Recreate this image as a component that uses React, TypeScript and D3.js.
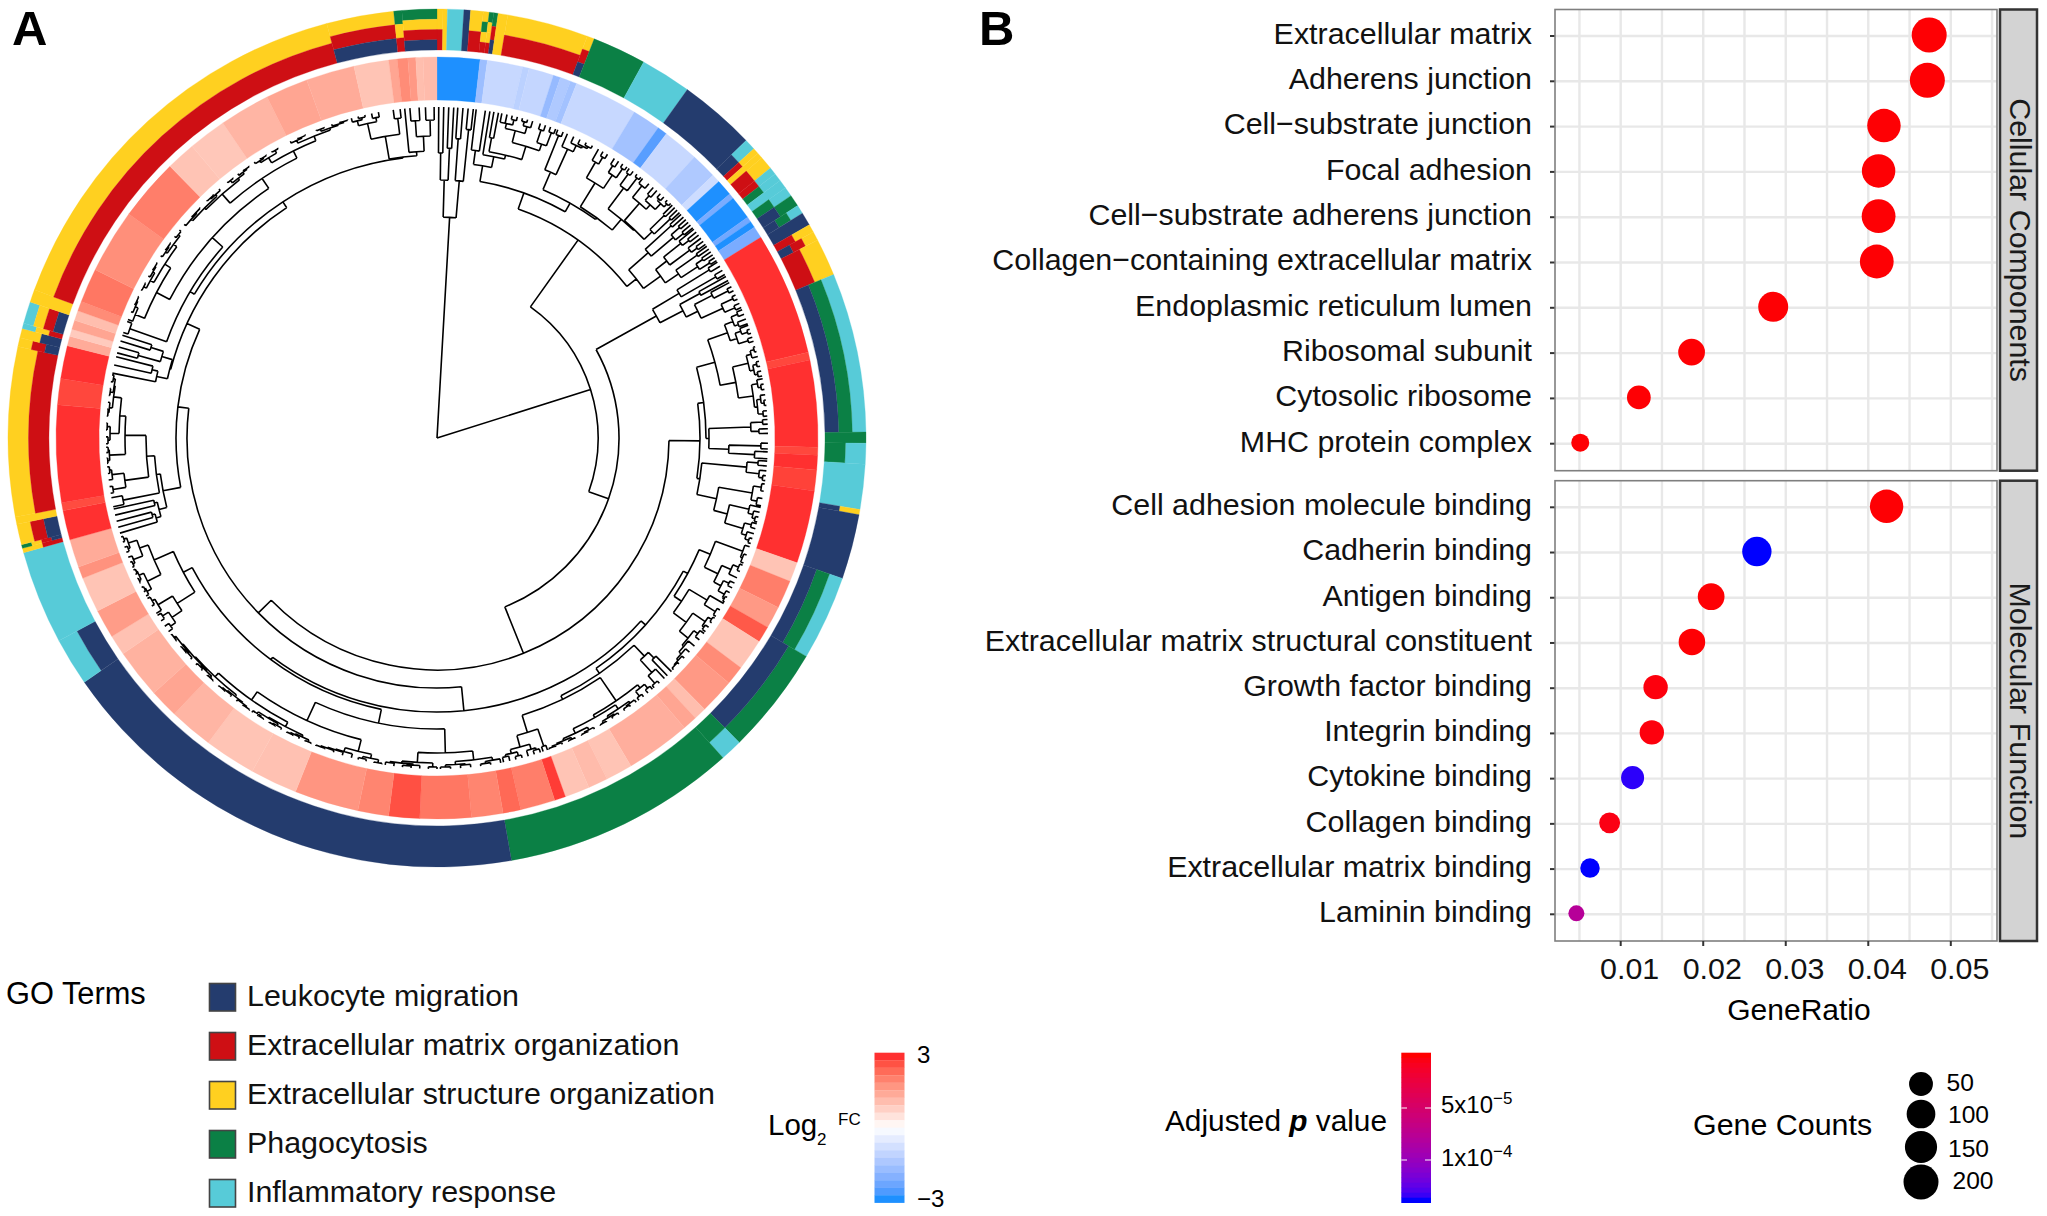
import * as d3 from 'd3'

const FONT = 'Liberation Sans'
const TIP = 331

// ---- panel A data ----
const goTerms = ['Leukocyte migration', 'Extracellular matrix organization', 'Extracellular structure organization', 'Phagocytosis', 'Inflammatory response']
const goKeys = ['L', 'E', 'Y', 'P', 'I']
const goColours = ['#243C6E', '#CE0F14', '#FFD020', '#0B8045', '#57CBD8']

// from angle, to angle, terms of that gene from the outside in
const termStacks: [number, number, string][] = [
    [0, 0.8, 'YE'], [0.8, 1.4, 'Y'], [1.4, 3.6, 'I'], [3.6, 4.5, 'L'], [4.5, 6.2, 'YE'], [6.2, 7, 'YPYE'], [7, 7.6, 'PYYE'], [7.6, 8.2, 'PEL'],
    [8.2, 9.5, 'Y'], [9.5, 20.5, 'YE'], [20.5, 21.5, 'YEL'], [21.5, 28.8, 'P'], [28.8, 35.7, 'I'], [35.7, 46.1, 'L'], [46.1, 47.6, 'IL'],
    [47.6, 48.4, 'YE'], [48.4, 49.2, 'Y'], [49.2, 51, 'YE'], [51, 52, 'IE'], [52, 53.1, 'IP'], [53.1, 54.3, 'I'], [54.3, 55.6, 'IP'],
    [55.6, 57.2, 'PL'], [57.2, 58.4, 'IPL'], [58.4, 60.2, 'L'], [60.2, 61.3, 'YE'], [61.3, 62.5, 'YEL'], [62.5, 67.6, 'YE'], [67.6, 89.2, 'IPL'],
    [89.2, 90.7, 'P'], [90.7, 93.5, 'IP'], [93.5, 99.6, 'I'], [99.6, 100.3, 'YL'], [100.3, 109.1, 'L'], [109.1, 120.6, 'IPL'], [120.6, 135.2, 'PL'],
    [135.2, 138.2, 'IP'], [138.2, 170, 'P'], [170, 235.3, 'L'], [235.3, 241.8, 'IL'], [241.8, 254.5, 'I'], [254.5, 255.1, 'YE'], [255.1, 255.6, 'PYEL'],
    [255.6, 258.4, 'YEL'], [258.4, 259.4, 'Y'], [259.4, 282.3, 'YE'], [282.3, 283.5, 'YEL'], [283.5, 284.8, 'YL'], [284.8, 285.5, 'IYE'],
    [285.5, 288.5, 'IYEL'], [288.5, 290.2, 'Y'], [290.2, 345.1, 'YE'], [345.1, 354.2, 'YEL'], [354.2, 355.3, 'PYE'], [355.3, 360, 'PYEL']
]

// from angle, to angle, log2 fold change
const foldChanges: [number, number, number][] = [
    [0, 6.5, -3], [6.5, 7.6, -1.7], [7.6, 13, -1], [13, 14, -1.2], [14, 17.8, -1.05], [17.8, 18.9, -1.8], [18.9, 20.5, -1.4], [20.5, 21.5, -1.6],
    [21.5, 31.2, -1], [31.2, 35.5, -1.6], [35.5, 37, -2.6], [37, 42.5, -1], [42.5, 46.4, -1.4], [46.4, 47.7, -0.9], [47.7, 50.2, -3], [50.2, 51, -2.2],
    [51, 54.6, -3], [54.6, 55.4, -2.3], [55.4, 56.4, -3], [56.4, 58.2, -2.2],
    [58.2, 77, 3], [77, 78.2, 2.8], [78.2, 91.4, 3], [91.4, 92.6, 2.8], [92.6, 94.8, 3], [94.8, 98, 2.85], [98, 109.1, 3],
    [109.1, 112.1, 1], [112.1, 116.4, 2.1], [116.4, 119.8, 1.7], [119.8, 122.3, 2.6], [122.3, 127.1, 1], [127.1, 130, 1.9], [130, 135.4, 1.7],
    [135.4, 137.3, 1.1], [137.3, 139.5, 1.5], [139.5, 149.4, 1.35], [149.4, 153.5, 1], [153.5, 156.5, 1.15], [156.5, 160.3, 1], [160.3, 162, 2.9],
    [162, 167.3, 2.1], [167.3, 170, 2.4], [170, 174.8, 2], [174.8, 182.6, 2.2], [182.6, 187.3, 2.7], [187.3, 192, 2], [192, 201.8, 1.75],
    [201.8, 209, 1.05], [209, 216.9, 1], [216.9, 223.6, 1.25], [223.6, 228, 1.5], [228, 235.5, 1.3], [235.5, 238.6, 1.05], [238.6, 243, 1.65],
    [243, 248.4, 1], [248.4, 250.2, 1.8], [250.2, 254.5, 1.4], [254.5, 259, 3], [259, 260.2, 2.75], [260.2, 275, 3], [275, 279, 2.8], [279, 284, 3],
    [284, 285.5, 1.4], [285.5, 286.6, 0.9], [286.6, 288, 1.5], [288, 289.5, 1.1], [289.5, 291, 1.9], [291, 296.2, 2.2], [296.2, 306, 1.85],
    [306, 315.5, 2.1], [315.5, 320, 1], [320, 325.8, 0.95], [325.8, 333.5, 1.25], [333.5, 340, 1.5], [340, 347.4, 1.4], [347.4, 352.7, 1],
    [352.7, 354, 1.5], [354, 355.6, 1.9], [355.6, 356.8, 1.7], [356.8, 357.9, 1.1], [357.9, 360, 1.15]
]

// ---- dendrogram: depth is the distance from the root, x is a gene ----
interface TreeNode { depth: number, at?: number, angle?: number, kids?: TreeNode[] }

const parseClade = (text: string): TreeNode => {
    let i = 0
    const read = (): TreeNode => {
        if (text[i] === 'x') {
            i++
            return { depth: TIP }
        }
        i++
        const kids = [read()]
        while (text[i] === ',') {
            i++
            kids.push(read())
        }
        i++
        let num = ''
        while (/[0-9.]/.test(text[i] || '')) num += text[i++]
        return { depth: +num, kids }
    }
    return read()
}

const clade = (from: number, to: number, text: string): TreeNode => {
    const tree = parseClade(text)
    const leaves: TreeNode[] = []
    const walk = (n: TreeNode) => { if (n.kids) n.kids.forEach(walk); else leaves.push(n) }
    walk(tree)
    const spread = d3.scaleLinear().domain([0, Math.max(1, leaves.length - 1)]).range([from, to])
    leaves.forEach((l, i) => { l.angle = spread(i) })
    return tree
}
const nd = (depth: number, ...kids: TreeNode[]): TreeNode => ({ depth, kids })

const treeA = nd(221,
    clade(0.3, 2.9, '((x,x)285,(x,x)290)258'),
    clade(3.6, 6.3, '((x,x)300,(x,x)310)258'))

const treeE = nd(260,
    nd(276,
        clade(6.8, 8.4, '(x,x)290'),
        nd(287,
            clade(9.2, 9.2, 'x'),
            nd(291,
                clade(9.9, 10.7, '(x,x)305'),
                nd(305,
                    clade(11.3, 16.8, '((x,x,(x,x)327)322,((x,x)328,x)324)317'),
                    clade(18.2, 21, '((x,x)325,(x,x)326)312'))))),
    nd(270,
        nd(289,
            clade(21.4, 22.4, '(x,x)326'),
            clade(23.2, 28, '(x,(x,(x,(x,x)328)326)324)317')),
        nd(272,
            nd(300,
                clade(29.2, 31, '(x,(x,x)326)318'),
                clade(32.4, 35, '((x,x)324,(x,x)327)316')),
            nd(286,
                clade(35.5, 38, '((x,x)326,(x,x)328)312'),
                nd(287,
                    nd(310,
                        clade(38.4, 39.8, '(x,x)325'),
                        clade(40.8, 44.9, '((x,x)322,((x,x)326,(x,x)328)324)316')),
                    clade(45.3, 47.1, '((x,x)318,(x,x)320)298'))))))

const treeF = nd(255,
    clade(47.5, 50.6, '((x,x)316,((x,x)321,(x,x)320)310)281'),
    nd(276,
        clade(50.9, 54.2, '((x,(x,x)320)312,(x,(x,x)322)315)290'),
        clade(54.6, 57.6, '((x,x)318,((x,x)320,(x,x)324)312)292')))

const treeD1 = nd(251,
    clade(57.9, 60.4, '((x,x)320,(x,x)322)282'),
    nd(277,
        clade(60.8, 61.6, '(x,x)300'),
        clade(62, 66.8, '((x,(x,x)326)310,((x,x)327,(x,x)325)314)290')))

const treeK = nd(263,
    nd(269,
        nd(288,
            nd(309,
                clade(67.2, 69.8, '((x,x)325,(x,x)322)318'),
                clade(70.1, 73, '((x,(x,x)328)322,(x,x)326)316')),
            nd(304,
                clade(74, 79.2, '(((x,x)329,x)325,((x,x)328,(x,x)327)324)320'),
                clade(79.7, 86.2, '((x,(x,x)328)325,((x,(x,x)329)326,(x,x)327)322)319'))),
        nd(272,
            clade(86.8, 89.2, '((x,x)326,(x,x)322)314'),
            nd(292,
                clade(90.9, 91.9, '(x,x)324'),
                clade(92.4, 93.6, '(x,x)318')))),
    nd(266,
        clade(94, 97.4, '((x,x)322,(x,(x,x)328)324)311'),
        nd(286,
            clade(98, 101.8, '((x,x)328,(x,x)326)320'),
            nd(300,
                clade(102.1, 104.7, '(x,(x,(x,x)328)325)320'),
                clade(105, 108.6, '((x,x)326,(x,(x,x)328)324)319')))))

const treeP = nd(280,
    nd(285,
        nd(297,
            clade(109.2, 112.2, '(x,(x,x)328)326'),
            nd(312,
                clade(112.6, 115, '((x,x)328,x)322'),
                clade(116, 119.7, '((x,x)326,(x,(x,x)329)327)320'))),
        nd(294,
            clade(120, 122.6, '(x,(x,x)328)315'),
            nd(310,
                clade(123, 125.8, '((x,x)329,(x,x)327)325'),
                clade(126.2, 134.4, '((x,x)326,(x,(x,(x,(x,x)329)328)326)323)321')))),
    nd(286,
        nd(301,
            clade(134.9, 135.9, '(x,x)309'),
            clade(136.6, 139, '(x,(x,x)328)318')),
        nd(290,
            nd(318,
                clade(139.4, 142.4, '((x,x)327,(x,x)328)322'),
                clade(143, 160.2, '(((x,(x,x)329)328,((x,x)329,(x,x)330)328)326,((x,(x,x)330)329,((x,x)330,(x,(x,x)330)329)328)326)321')),
            nd(308,
                clade(160.5, 161.3, '(x,x)326'),
                clade(161.8, 168.4, '(((x,x)327,x)325,((x,x)328,(x,x)326)324)320')))))

const treeQ = nd(277,
    nd(291,
        nd(315,
            clade(168.9, 179.4, '((x,(x,x)329)327,((x,x)328,(x,x)329)327)324'),
            clade(180, 189, '((x,x)329,((x,(x,x)329)328,(x,x)328)327)325')),
        nd(311,
            nd(323,
                clade(189.6, 193.8, '((x,x)330,(x,x)329)327'),
                clade(195, 201.5, '(x,(x,(x,(x,x)330)329)328)327')),
            nd(321,
                clade(202.4, 214, '(((x,x)330,(x,(x,x)330)329)328,((x,(x,x)330)329,((x,x)330,x)329)327)326'),
                clade(214.6, 233.5, '((((x,x)330,x)329,(x,(x,x)330)329)328,(((x,x)330,(x,x)329)328,((x,(x,x)330)329,(x,x)330)328)327)326')))),
    nd(287,
        nd(308,
            clade(234.2, 237.6, '((x,x)326,(x,x)327)320'),
            clade(238, 241, '(x,(x,x)328)325')),
        nd(308,
            clade(241.5, 246.5, '((x,(x,x)329)328,((x,x)330,(x,x)329)328)323'),
            clade(247, 252.6, '(((x,x)329,x)327,((x,x)328,(x,x)329)326)317'))))

const treeN1 = nd(279,
    clade(253.3, 257.6, '((x,(x,x)295)292,(x,x)290)287'),
    nd(283,
        clade(258, 259.6, '(x,x)320'),
        nd(291,
            clade(260.4, 265, '((x,x)328,(x,(x,x)329)327)315'),
            nd(312,
                clade(265.6, 268.4, '((x,x)330,(x,x)329)328'),
                clade(269, 281, '(((x,x)329,(x,x)330)327,(((x,x)330,x)329,((x,x)330,(x,x)329)327)326)318')))))

const treeT = nd(282,
    nd(287,
        clade(288.6, 290.6, '(x,x)326'),
        nd(301,
            nd(316,
                clade(291, 295.3, '(x,(x,(x,x)330)329)326'),
                nd(323,
                    clade(296.6, 302, '((x,x)330,(x,(x,x)330)329)327'),
                    clade(303.4, 308.9, '((x,(x,x)330)329,(x,x)329)327'))),
            nd(313,
                nd(325,
                    nd(327,
                        clade(310.2, 314.1, '(x,(x,x)330)329'),
                        clade(315.9, 318.8, '((x,x)330,x)329')),
                    clade(320.7, 325.3, '((x,x)330,(x,(x,x)330)329)327')),
                nd(321,
                    clade(326.5, 331.2, '((x,(x,x)330)329,(x,x)330)327'),
                    nd(326,
                        clade(333.7, 336.5, '(x,(x,x)330)329'),
                        clade(338.6, 344.3, '((x,x)330,(x,(x,x)330)329)328')))))),
    nd(283,
        nd(306,
            clade(345, 349.8, '((x,(x,x)329)327,(x,x)326)322'),
            clade(352.4, 353.6, '(x,x)322')),
        nd(287,
            clade(354.4, 354.4, 'x'),
            nd(302,
                clade(355.3, 356.9, '(x,x)318'),
                clade(358, 359.5, '(x,x)318')))))

const treeN2: TreeNode = {
    depth: 275,
    at: 294.6,
    kids: [
        nd(276,
            clade(281.3, 284.2, '(x,(x,x)293)287'),
            clade(284.9, 288.1, '((x,x)310,(x,x)300)287')),
        treeT
    ]
}

const treeRoot = nd(0,
    treeA,
    nd(161,
        nd(243, treeE, treeF),
        nd(182,
            treeD1,
            nd(232,
                treeK,
                nd(250,
                    nd(274, treeP, treeQ),
                    nd(261, treeN1, treeN2))))))

// ---- panel B data ----
const ccTerms = ['Extracellular matrix', 'Adherens junction', 'Cell\u2212substrate junction', 'Focal adhesion', 'Cell\u2212substrate adherens junction', 'Collagen\u2212containing extracellular matrix', 'Endoplasmic reticulum lumen', 'Ribosomal subunit', 'Cytosolic ribosome', 'MHC protein complex']
const ccRatio = [0.04738, 0.04716, 0.0419, 0.04125, 0.04125, 0.04103, 0.02848, 0.01859, 0.0122, 0.0051]
const ccCount = [200, 200, 172, 172, 178, 178, 117, 77, 49, 21]
const ccPadj = [1e-6, 1e-6, 1e-6, 1e-6, 1e-6, 1e-6, 1e-6, 1e-6, 1e-6, 1e-6]

const mfTerms = ['Cell adhesion molecule binding', 'Cadherin binding', 'Antigen binding', 'Extracellular matrix structural constituent', 'Growth factor binding', 'Integrin binding', 'Cytokine binding', 'Collagen binding', 'Extracellular matrix binding', 'Laminin binding']
const mfRatio = [0.04222, 0.0265, 0.02096, 0.01863, 0.01423, 0.01377, 0.01144, 0.00866, 0.00628, 0.00463]
const mfCount = [170, 108, 77, 75, 54, 54, 44, 31, 25, 19]
const mfPadj = [1e-6, 1.41e-4, 1e-6, 1e-6, 3e-6, 3e-6, 1.38e-4, 5e-6, 1.41e-4, 8e-5]

const ratioTicks = [0.01, 0.02, 0.03, 0.04, 0.05]
const ratioGrid = [0.005, 0.01, 0.015, 0.02, 0.025, 0.03, 0.035, 0.04, 0.045, 0.05, 0.055]
const countLegend = [50, 100, 150, 200]

// ---- scales ----
const cx = 437
const cy = 438
const ringOuter = 429
const ringInner = 388
const heatOuter = 381
const heatInner = 338
const rad = (deg: number) => deg * Math.PI / 180

const radius = d3.scaleLinear().domain([0, TIP]).range([0, TIP])
const heatColour = d3.scaleLinear<string>().domain([-3, 0, 3]).range(['#1E90FF', '#FFFFFF', '#FF3030']).interpolate(d3.interpolateLab)
const padjColour = d3.scaleLinear<string>().domain([0, 1.41e-4]).range(['#FF0000', '#0000FF']).interpolate(d3.interpolateLab)
const termColour = d3.scaleOrdinal<string, string>().domain(goKeys).range(goColours)
const sizeScale = d3.scaleSqrt().domain([0, 181]).range([8, 17.5])
const dotRadius = (count: number) => sizeScale(count - 19)
const ratioX = d3.scaleLinear().domain([0.01, 0.05]).range([1620.7, 1950.8])
const ccY = d3.scalePoint<string>().domain(ccTerms).range([36, 443.7])
const mfY = d3.scalePoint<string>().domain(mfTerms).range([507.3, 914.3])

const arc = d3.arc<{ r0: number, r1: number, a0: number, a1: number }>()
    .innerRadius(d => d.r0)
    .outerRadius(d => d.r1)
    .startAngle(d => rad(d.a0))
    .endAngle(d => rad(d.a1))

const buildTreePath = () => {
    const root = d3.hierarchy<TreeNode>(treeRoot, d => d.kids)
    root.eachAfter(n => {
        const kids = n.children
        if (kids) {
            const a = kids[0].data.angle as number
            const b = kids[kids.length - 1].data.angle as number
            n.data.angle = n.data.at ?? (a + b) / 2
        }
    })
    const path = d3.path()
    root.each(n => {
        const a = rad((n.data.angle as number) - 90)
        if (n.parent) {
            const r0 = radius(n.parent.data.depth)
            const r1 = radius(n.data.depth)
            path.moveTo(r0 * Math.cos(a), r0 * Math.sin(a))
            path.lineTo(r1 * Math.cos(a), r1 * Math.sin(a))
        }
        if (n.children && n.depth > 0) {
            const r = radius(n.data.depth)
            const a0 = rad((n.children[0].data.angle as number) - 90)
            const a1 = rad((n.children[n.children.length - 1].data.angle as number) - 90)
            path.moveTo(r * Math.cos(a0), r * Math.sin(a0))
            path.arc(0, 0, r, a0, a1)
        }
    })
    return path.toString()
}

const PanelA = () => (
    <g transform={`translate(${cx},${cy})`}>
        {termStacks.map(([from, to, keys], i) => {
            const band = d3.scaleLinear().domain([0, keys.length]).range([ringOuter, ringInner])
            return keys.split('').map((k, j) => (
                <path
                    key={`${i}-${j}`}
                    d={arc({ r0: band(j + 1), r1: band(j), a0: from, a1: to }) as string}
                    fill={termColour(k)}
                    stroke={termColour(k)}
                    strokeWidth={0.3}
                />
            ))
        })}
        {foldChanges.map(([from, to, value], i) => (
            <path
                key={i}
                d={arc({ r0: heatInner, r1: heatOuter, a0: from, a1: to }) as string}
                fill={heatColour(value)}
                stroke={heatColour(value)}
                strokeWidth={0.3}
            />
        ))}
        <path d={buildTreePath()} fill="none" stroke="#000" strokeWidth={1.6} />
    </g>
)

const DotPanel = (props: { terms: string[], ratio: number[], count: number[], padj: number[], y: d3.ScalePoint<string>, top: number, bottom: number, strip: string }) => {
    const { terms, ratio, count, padj, y, top, bottom, strip } = props
    const left = 1555
    const right = 1997
    return (
        <g>
            {ratioGrid.map(v => (
                <line key={v} x1={ratioX(v)} x2={ratioX(v)} y1={top} y2={bottom} stroke="#e8e8e8" strokeWidth={2.4} />
            ))}
            {terms.map(t => (
                <g key={t}>
                    <line x1={left} x2={right} y1={y(t)} y2={y(t)} stroke="#e8e8e8" strokeWidth={2.4} />
                    <line x1={left - 5} x2={left} y1={y(t)} y2={y(t)} stroke="#333" strokeWidth={2} />
                    <text x={1532} y={(y(t) as number) + 7.8} textAnchor="end" fontSize={30.4} fill="#111">{t}</text>
                </g>
            ))}
            <rect x={left} y={top} width={right - left} height={bottom - top} fill="none" stroke="#7f7f7f" strokeWidth={1.6} />
            {terms.map((t, i) => (
                <circle key={t} cx={ratioX(ratio[i])} cy={(y(t) as number) - 1} r={dotRadius(count[i])} fill={padjColour(padj[i])} />
            ))}
            <rect x={2000} y={top} width={37} height={bottom - top} fill="#D3D3D3" stroke="#333" strokeWidth={2.5} />
            <text transform={`translate(2010,${(top + bottom) / 2}) rotate(90)`} textAnchor="middle" fontSize={30.4} fill="#1a1a1a">{strip}</text>
        </g>
    )
}

const Legends = () => {
    const fcSteps = d3.range(20)
    const fcY = d3.scaleLinear().domain([0, 20]).range([1052.7, 1202.7])
    const fcValue = d3.scaleLinear().domain([0, 19]).range([3, -3])
    const pSteps = d3.range(30)
    const pY = d3.scaleLinear().domain([0, 30]).range([1052.7, 1202.7])
    const pValue = d3.scaleLinear().domain([0, 29]).range([0, 1.41e-4])
    const legendY = [1084, 1114, 1147, 1182]
    const legendText = [1090.7, 1123, 1157, 1189]
    const legendX = [1946.6, 1948, 1948, 1952.5]
    return (
        <g>
            <text x={6} y={1004} fontSize={30.8}>GO Terms</text>
            {goTerms.map((t, i) => (
                <g key={t}>
                    <rect x={209.5} y={983.5 + i * 49} width={26} height={27.5} fill={goColours[i]} stroke="#444" strokeWidth={1.6} />
                    <text x={247} y={1006 + i * 49} fontSize={30.4} fill="#111">{t}</text>
                </g>
            ))}
            <text x={768} y={1135} fontSize={29.5}>Log</text>
            <text x={817} y={1145} fontSize={17}>2</text>
            <text x={838} y={1125} fontSize={17}>FC</text>
            {fcSteps.map(i => (
                <rect key={i} x={874.5} y={fcY(i)} width={30} height={7.7} fill={heatColour(fcValue(i))} />
            ))}
            <text x={917} y={1063} fontSize={24}>3</text>
            <text x={917} y={1206.6} fontSize={24}>{'\u22123'}</text>

            <text x={1165} y={1131} fontSize={29.8}>
                Adjusted <tspan fontWeight="bold" fontStyle="italic">p</tspan> value
            </text>
            {pSteps.map(i => (
                <rect key={i} x={1401.3} y={pY(i)} width={29.7} height={5.3} fill={padjColour(pValue(i))} />
            ))}
            {[1108, 1160].map(v => (
                <g key={v} stroke="#fff" strokeOpacity={0.7} strokeWidth={1.4}>
                    <line x1={1401.3} x2={1407} y1={v} y2={v} />
                    <line x1={1425} x2={1431} y1={v} y2={v} />
                </g>
            ))}
            <text x={1441} y={1113} fontSize={24}>5x10<tspan dy={-9} fontSize={17}>{'\u22125'}</tspan></text>
            <text x={1441} y={1166} fontSize={24}>1x10<tspan dy={-9} fontSize={17}>{'\u22124'}</tspan></text>

            <text x={1693} y={1135} fontSize={30.4}>Gene Counts</text>
            {countLegend.map((c, i) => (
                <g key={c}>
                    <circle cx={1921} cy={legendY[i]} r={dotRadius(c)} fill="#000" />
                    <text x={legendX[i]} y={legendText[i]} fontSize={24.6}>{c}</text>
                </g>
            ))}
        </g>
    )
}

const App = () => (
    <svg
        width={2047}
        height={1216}
        style={{ position: 'absolute', left: 0, top: 0, background: '#fff' }}
        fontFamily={FONT}
    >
        <text x={12} y={45} fontSize={49} fontWeight="bold">A</text>
        <text x={979} y={45} fontSize={49} fontWeight="bold">B</text>
        <PanelA />
        <DotPanel terms={ccTerms} ratio={ccRatio} count={ccCount} padj={ccPadj} y={ccY} top={9.5} bottom={470.7} strip="Cellular Components" />
        <DotPanel terms={mfTerms} ratio={mfRatio} count={mfCount} padj={mfPadj} y={mfY} top={480.7} bottom={941} strip="Molecular Function" />
        {ratioTicks.map(v => (
            <g key={v}>
                <line x1={ratioX(v)} x2={ratioX(v)} y1={941} y2={946} stroke="#333" strokeWidth={2} />
                <text x={ratioX(v) + 9} y={979} textAnchor="middle" fontSize={30.4} fill="#111">{v}</text>
            </g>
        ))}
        <text x={1799} y={1020} textAnchor="middle" fontSize={30}>GeneRatio</text>
        <Legends />
    </svg>
)

export default App
